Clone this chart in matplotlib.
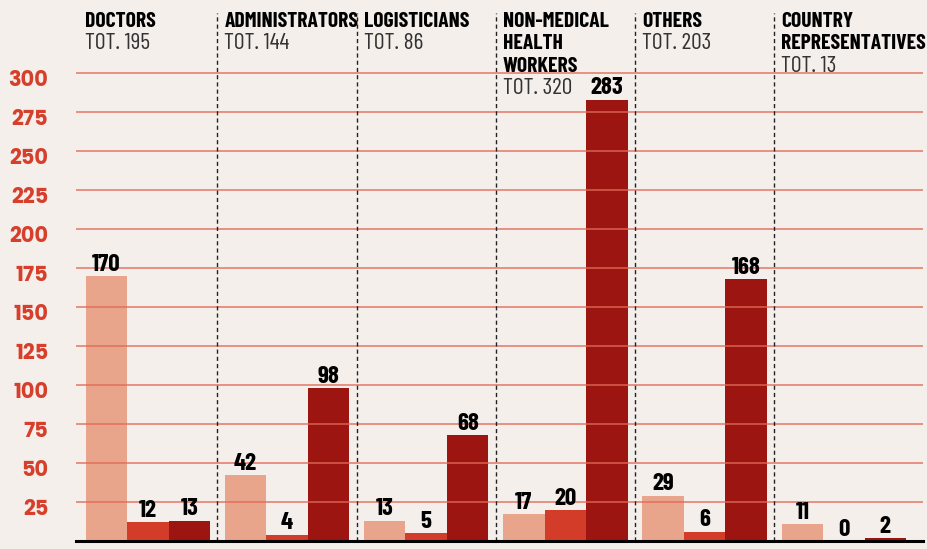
import numpy as np
import matplotlib.pyplot as plt

# data
groups = ["DOCTORS", "ADMINISTRATORS", "LOGISTICIANS",
          "NON-MEDICAL\nHEALTH\nWORKERS", "OTHERS", "COUNTRY\nREPRESENTATIVES"]
totals = [195, 144, 86, 320, 203, 13]
serie_a = [170, 42, 13, 17, 29, 11]
serie_b = [12, 4, 5, 20, 6, 0]
serie_c = [13, 98, 68, 283, 168, 2]
yticks = list(range(25, 301, 25))

bg = "#f4efeb"
colors = ["#e9a58b", "#d33c29", "#9c1510"]
cond = ["Barlow Condensed", "DejaVu Sans"]
geo = ["Poppins", "Lato", "DejaVu Sans"]

fig = plt.figure(figsize=(9.28, 5.49), dpi=100)
fig.patch.set_facecolor(bg)
ax = fig.add_axes([76 / 928, 8 / 549, 847 / 928, 528 / 549])
ax.set_facecolor(bg)
ax.set_xlim(-0.516, 5.569)
ax.set_ylim(0, 338.5)

x = np.arange(len(groups))
w = 0.298
for k, serie in enumerate([serie_a, serie_b, serie_c]):
    xs = x + (k - 1) * w
    ax.bar(xs, serie, w, color=colors[k], zorder=2)
    for xi, v in zip(xs, serie):
        ax.annotate(str(v), (xi, v), xytext=(0, 3.8), textcoords="offset points",
                    ha="center", va="baseline", fontsize=18, fontweight="bold",
                    family=cond, color="black", zorder=5)

# grid lines on top of bars
ax.hlines(yticks, -0.516, 5.569, colors="#e06a58", lw=1.1, alpha=0.9, zorder=3)
ax.axhline(0, color="black", lw=2.2, zorder=4, clip_on=False)

# dashed separators
ax.vlines(x[1:] - 0.5, 0, 338.5, colors="#222222", lw=1.0,
          linestyles=(0, (3, 2.2)), zorder=3)

# y labels
for v in yticks:
    ax.annotate(str(v), (0, v), xycoords=("axes fraction", "data"),
                xytext=(-20, -5.4), textcoords="offset points",
                ha="right", va="center", fontsize=15, fontweight="bold",
                family=geo, color="#d63f2c")

# group headers
for i, (name, tot) in enumerate(zip(groups, totals)):
    lines = name.split("\n")
    for j, line in enumerate(lines):
        ax.annotate(line, (i - 0.5, 1), xycoords=("data", "axes fraction"),
                    xytext=(5, -(14 + 22.3 * j) * 0.72), textcoords="offset points",
                    ha="left", va="baseline", fontsize=15.5, fontweight="bold",
                    family=cond, color="black", annotation_clip=False)
    ax.annotate(f"TOT. {tot}", (i - 0.5, 1), xycoords=("data", "axes fraction"),
                xytext=(5, -(14 + 22.3 * len(lines)) * 0.72), textcoords="offset points",
                ha="left", va="baseline", fontsize=17, fontweight="normal",
                family=cond, color="#333333", annotation_clip=False)

for s in ax.spines.values():
    s.set_visible(False)
ax.set_xticks([])
ax.set_yticks([])

fig.savefig("out.png", dpi=100, facecolor=bg)
